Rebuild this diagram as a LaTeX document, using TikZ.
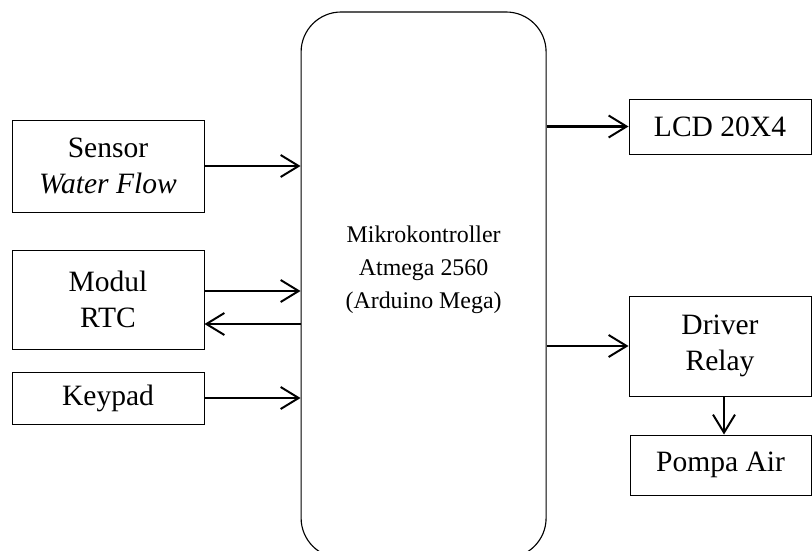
\documentclass[tikz,border=0pt]{standalone}
\usepackage{fontspec}
\setmainfont{Liberation Serif}
\usetikzlibrary{arrows.meta}
\tikzset{
    blok/.style={draw,line width=0.7pt,align=center,font=\fontsize{21}{26}\selectfont,inner sep=0pt},
    panah/.style={line width=1.6pt,-{Straight Barb[length=4.5mm,width=5.5mm,line width=1.4pt]}}
}
\begin{document}
\begin{tikzpicture}
    \useasboundingbox (0,0) rectangle (20.3,-13.775);

    % Draw mikrokontroller
    \node[draw,line width=0.8pt,rounded corners=1cm,minimum width=6.125cm,minimum height=13.65cm] (mcu) at (10.59,-7.125) {};
    \node[align=center,font=\fontsize{17}{23.5}\selectfont] (mcutext) at (10.59,-6.75) {Mikrokontroller\\Atmega 2560\\(Arduino Mega)};

    % Draw input blocks
    \node[blok,minimum width=4.8cm,minimum height=2.3cm] (sensor) at (2.7,-4.15) {Sensor\\\textit{Water Flow}};
    \node[blok,minimum width=4.8cm,minimum height=2.475cm] (rtc) at (2.7,-7.4875) {Modul\\RTC};
    \node[blok,minimum width=4.8cm,minimum height=1.3cm] (keypad) at (2.7,-9.95) {Keypad};

    % Draw output blocks
    \node[blok,minimum width=4.55cm,minimum height=1.375cm] (lcd) at (18.0,-3.1625) {LCD 20X4};
    \node[blok,minimum width=4.55cm,minimum height=2.5cm] (relay) at (18.0,-8.65) {Driver\\Relay};
    \node[blok,minimum width=4.525cm,minimum height=1.5cm] (pompa) at (18.0125,-11.625) {Pompa Air};

    % Draw arrows
    \draw[panah] (sensor.east) -- (sensor.east -| mcu.west);
    \draw[panah] ([yshift=0.2125cm]rtc.east) -- ([yshift=0.2125cm]rtc.east -| mcu.west);
    \draw[panah] ([yshift=-0.6125cm]rtc.east -| mcu.west) -- ([yshift=-0.6125cm]rtc.east);
    \draw[panah] (keypad.east) -- (keypad.east -| mcu.west);
    \draw[panah] (lcd.west -| mcu.east) -- (lcd.west);
    \draw[panah] (relay.west -| mcu.east) -- (relay.west);
    \draw[panah] ([xshift=0.1cm]relay.south) -- ([xshift=0.1cm]relay.south |- pompa.north);
\end{tikzpicture}
\end{document}
